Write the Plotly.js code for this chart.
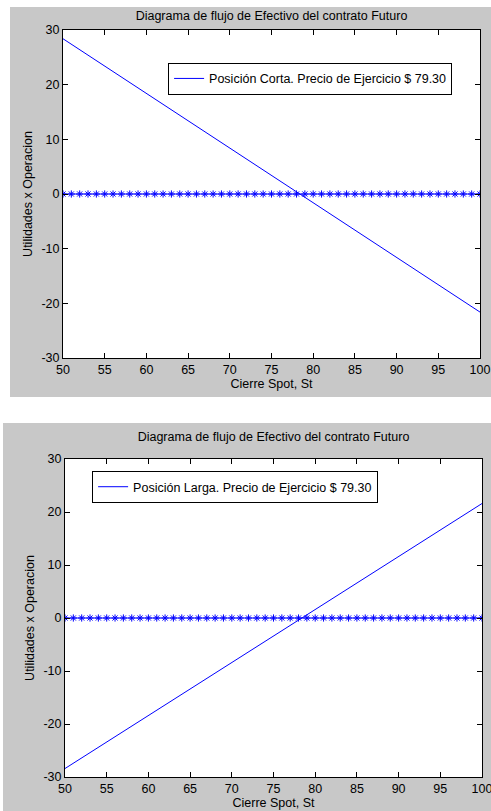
<!DOCTYPE html>
<html>
<head>
<meta charset="utf-8">
<script src="https://cdn.plot.ly/plotly-3.0.1.min.js"></script>
<style>
html,body{margin:0;padding:0;background:#fff;width:491px;height:811px;overflow:hidden;position:relative;}
#p1{position:absolute;left:10px;top:7px;width:481px;height:390px;}
#p2{position:absolute;left:3px;top:423px;width:500px;height:388px;}
</style>
</head>
<body>
<div id="p1"></div>
<div id="p2"></div>
<script>
// Data
const spot = [50, 55, 60, 65, 70, 75, 80, 85, 90, 95, 100];
const corta = [28.4, 23.4, 18.4, 13.4, 8.4, 3.4, -1.6, -6.6, -11.6, -16.6, -21.6];
const larga = [-28.4, -23.4, -18.4, -13.4, -8.4, -3.4, 1.6, 6.6, 11.6, 16.6, 21.6];
const gridX = [50,51,52,53,54,55,56,57,58,59,60,61,62,63,64,65,66,67,68,69,70,71,72,73,74,75,76,77,78,79,80,81,82,83,84,85,86,87,88,89,90,91,92,93,94,95,96,97,98,99,100];
const gridY = [0,0,0,0,0,0,0,0,0,0,0,0,0,0,0,0,0,0,0,0,0,0,0,0,0,0,0,0,0,0,0,0,0,0,0,0,0,0,0,0,0,0,0,0,0,0,0,0,0,0,0];
const titleText = "Diagrama de flujo de Efectivo del contrato Futuro";
const xTitle = "Cierre Spot, St";
const yTitle = "Utilidades x Operacion";
const nameCorta = "Posición Corta. Precio de Ejercicio $ 79.30";
const nameLarga = "Posición Larga. Precio de Ejercicio $ 79.30";
const xTicks = [50, 55, 60, 65, 70, 75, 80, 85, 90, 95, 100];
const yTicks = [-30, -20, -10, 0, 10, 20, 30];
const yTickLabels = ["-30", "-20", "-10", "0", "10", "20", "30"];

const FONT = "Liberation Sans, Arial, sans-serif";
const FS = 12.5;
const BLUE = "#0000ff";

function axisX() {
  return {
    range: [50, 100], tickvals: xTicks, ticks: "inside", ticklen: 5, tickcolor: "#000",
    showline: true, linecolor: "#000", linewidth: 1, mirror: "ticks",
    showgrid: false, zeroline: false,
    tickfont: {family: FONT, size: FS, color: "#000"},
    title: {text: xTitle, font: {family: FONT, size: FS, color: "#000"}, standoff: 2}
  };
}
function axisY() {
  return {
    range: [-30, 30], tickvals: yTicks, ticktext: yTickLabels, ticks: "inside", ticklen: 5, tickcolor: "#000",
    showline: true, linecolor: "#000", linewidth: 1, mirror: "ticks",
    showgrid: false, zeroline: false,
    tickfont: {family: FONT, size: FS, color: "#000"},
    title: {text: yTitle, font: {family: FONT, size: FS, color: "#000"}, standoff: 6}
  };
}
function makeLayout(w, margin, legendX, legendY, titleY) {
  return {
    paper_bgcolor: "#c8c8c8", plot_bgcolor: "#ffffff",
    margin: margin,
    title: {text: titleText, font: {family: FONT, size: FS, color: "#000"}, x: (margin.l + (w - margin.l - margin.r) / 2) / w, xanchor: "center", y: titleY, yanchor: "middle"},
    xaxis: axisX(), yaxis: axisY(),
    showlegend: true,
    legend: {x: legendX, y: legendY, xanchor: "left", yanchor: "top", bgcolor: "#ffffff",
      bordercolor: "#000", borderwidth: 1, font: {family: FONT, size: FS, color: "#000"}},
    font: {family: FONT}
  };
}
function zeroTrace() {
  return {x: gridX, y: gridY, mode: "lines+markers", showlegend: false, hoverinfo: "skip",
    line: {color: BLUE, width: 1},
    marker: {symbol: "asterisk-open", size: 6, color: BLUE, line: {color: BLUE, width: 1}}};
}

Plotly.newPlot("p1", [
  {x: spot, y: corta, mode: "lines", name: nameCorta, line: {color: BLUE, width: 1}},
  zeroTrace()
], makeLayout(481, {l: 53, r: 11, t: 23, b: 39}, 0.252, 0.9, 0.977), {displayModeBar: false, staticPlot: true});

Plotly.newPlot("p2", [
  {x: spot, y: larga, mode: "lines", name: nameLarga, line: {color: BLUE, width: 1}},
  zeroTrace()
], makeLayout(500, {l: 62, r: 21, t: 36, b: 34}, 0.065, 0.962, 0.964), {displayModeBar: false, staticPlot: true});
</script>
</body>
</html>
